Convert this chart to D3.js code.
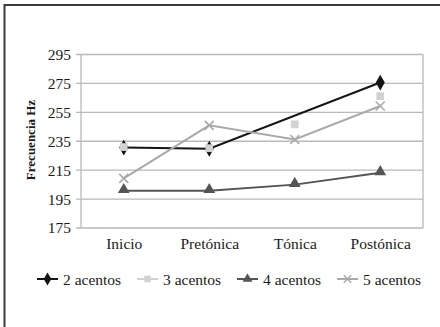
<!DOCTYPE html>
<html>
<head>
<meta charset="utf-8">
<script src="https://cdn.jsdelivr.net/npm/d3@7"></script>
<style>
  body { margin: 0; background: #fff; }
</style>
</head>
<body>
<div id="graphicContainer"></div>
<script>
var categories = ["Inicio", "Pretónica", "Tónica", "Postónica"];
var yTicks = [175, 195, 215, 235, 255, 275, 295];
var seriesNames = ["2 acentos", "3 acentos", "4 acentos", "5 acentos"];
// 2 acentos has no value at Tónica; the line connects across the gap
var acentos2 = [230.6, 229.8, null, 275.6];
var acentos3 = [231.0, 230.2, 246.7, 266.2];
var acentos4 = [200.8, 200.8, 205.0, 213.2];
var acentos5 = [209.3, 246.0, 236.2, 259.4];

var FONT = '"Liberation Serif"';
var width = 440, height = 327;
var margin = { top: 54.5, right: 17, bottom: 99, left: 81 };

var svg = d3.select("#graphicContainer").append("svg")
  .attr("width", width).attr("height", height);

// outer frame (only top and left edges show)
svg.append("path")
  .attr("d", "M4.5,327 L4.5,5 L440,5")
  .attr("fill", "none").attr("stroke", "#3a3a3a").attr("stroke-width", 2);

var x = d3.scalePoint().domain(categories)
  .range([margin.left, width - margin.right]).padding(0.5);
var y = d3.scaleLinear().domain([175, 295])
  .range([height - margin.bottom, margin.top]);

// gridlines
svg.append("g").selectAll("line").data(yTicks).enter().append("line")
  .attr("x1", margin.left - 5).attr("x2", width - margin.right)
  .attr("y1", function (d) { return y(d); }).attr("y2", function (d) { return y(d); })
  .attr("stroke", "#b9b9b9").attr("stroke-width", 1.3);

// plot area sides
svg.append("line").attr("x1", margin.left).attr("x2", margin.left)
  .attr("y1", y(295)).attr("y2", y(175)).attr("stroke", "#b9b9b9").attr("stroke-width", 1.3);
svg.append("line").attr("x1", width - margin.right).attr("x2", width - margin.right)
  .attr("y1", y(295)).attr("y2", y(175)).attr("stroke", "#b9b9b9").attr("stroke-width", 1.3);

// y axis labels
var yAxis = d3.axisLeft(y).tickValues(yTicks).tickSize(5).tickPadding(5);
var gy = svg.append("g").attr("transform", "translate(" + margin.left + ",0)").call(yAxis);
gy.select(".domain").remove();
gy.selectAll(".tick line").remove();
gy.selectAll("text").attr("fill", "#1a1a1a")
  .style("font-family", FONT).style("font-size", "15.5px");

// x axis labels
var xAxis = d3.axisBottom(x).tickSize(0).tickPadding(10);
var gx = svg.append("g").attr("transform", "translate(0," + y(175) + ")").call(xAxis);
gx.select(".domain").remove();
gx.selectAll("text").attr("fill", "#1a1a1a")
  .style("font-family", FONT).style("font-size", "15.5px");

// y title
svg.append("text")
  .attr("transform", "translate(35,140) rotate(-90)")
  .attr("text-anchor", "middle").attr("fill", "#1a1a1a")
  .style("font-family", FONT).style("font-size", "13px").style("font-weight", "bold")
  .text("Frecuencia Hz");

var styles = [
  { values: acentos2, color: "#151515", line: true, symbol: d3.symbolDiamond, size: 72, fill: "#151515" },
  { values: acentos3, color: "#d2d2d2", line: false, symbol: d3.symbolSquare, size: 60, fill: "#d2d2d2" },
  { values: acentos4, color: "#555555", line: true, symbol: d3.symbolTriangle, size: 60, fill: "#555555" },
  { values: acentos5, color: "#a9a9a9", line: true, symbol: d3.symbolX, size: 55, fill: "none" }
];

var lineGen = d3.line()
  .x(function (d) { return x(d.cat); })
  .y(function (d) { return y(d.v); });

// draw order: 2, 4, 5 lines, then 3 acentos squares on top of the diamonds
var drawOrder = [0, 2, 3, 1];
drawOrder.forEach(function (i) {
  var s = styles[i];
  var pts = s.values.map(function (v, k) { return { cat: categories[k], v: v }; })
    .filter(function (d) { return d.v !== null; });
  if (s.line) {
    svg.append("path").datum(pts)
      .attr("d", lineGen)
      .attr("fill", "none").attr("stroke", s.color).attr("stroke-width", 2);
  }
  svg.append("g").selectAll("path").data(pts).enter().append("path")
    .attr("transform", function (d) {
      var dy = s.symbol === d3.symbolTriangle ? -1 : 0;
      return "translate(" + x(d.cat) + "," + (y(d.v) + dy) + ")";
    })
    .attr("d", d3.symbol().type(s.symbol).size(s.size))
    .attr("fill", s.fill)
    .attr("stroke", s.fill === "none" ? s.color : "none")
    .attr("stroke-width", 1.6);
});

// legend
var legendX = [37, 137, 237, 337];
var legendY = 279;
seriesNames.forEach(function (name, i) {
  var s = styles[i];
  var g = svg.append("g").attr("transform", "translate(" + legendX[i] + "," + legendY + ")");
  g.append("line").attr("x1", 0).attr("x2", 21).attr("y1", 0).attr("y2", 0)
    .attr("stroke", s.color).attr("stroke-width", 2);
  g.append("path").attr("transform", "translate(10.5,0)")
    .attr("d", d3.symbol().type(s.symbol).size(s.size * 0.7))
    .attr("fill", s.fill)
    .attr("stroke", s.fill === "none" ? s.color : "none")
    .attr("stroke-width", 1.4);
  g.append("text").attr("x", 26).attr("y", 5.5).attr("fill", "#1a1a1a")
    .style("font-family", FONT).style("font-size", "15.5px")
    .text(name);
});
</script>
</body>
</html>
